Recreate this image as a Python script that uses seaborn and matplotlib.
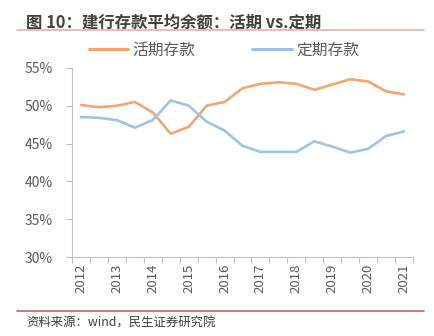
import matplotlib
matplotlib.use("Agg")
import matplotlib.pyplot as plt
import matplotlib.lines as mlines
import seaborn as sns
import pandas as pd
import numpy as np

periods = ["2012", "2012H2", "2013", "2013H2", "2014", "2014H2", "2015", "2015H2",
           "2016", "2016H2", "2017", "2017H2", "2018", "2018H2", "2019", "2019H2",
           "2020", "2020H2", "2021"]
tick_labels = ["2012", "2013", "2014", "2015", "2016", "2017", "2018", "2019", "2020", "2021"]
demand = [50.1, 49.8, 50.0, 50.5, 49.1, 46.3, 47.2, 50.0, 50.5, 52.3, 52.9, 53.1,
          52.9, 52.1, 52.8, 53.5, 53.2, 51.9, 51.5]
time_dep = [48.5, 48.4, 48.1, 47.1, 48.1, 50.7, 50.0, 47.9, 46.7, 44.7, 43.9, 43.9,
            43.9, 45.3, 44.6, 43.8, 44.3, 46.0, 46.6]
series_names = ["活期存款", "定期存款"]
colors = ["#F4A672", "#9DC3E6"]

sns.set_theme(style="white")
plt.rcParams['font.family'] = ['Noto Sans CJK SC', 'DejaVu Sans']

df = pd.DataFrame({
    "idx": list(range(len(periods))) * 2,
    "value": demand + time_dep,
    "series": [series_names[0]] * len(periods) + [series_names[1]] * len(periods),
})

fig = plt.figure(figsize=(4.35, 3.36), dpi=100)
ax = fig.add_axes([0.1655, 0.235, 0.784, 0.563])
sns.lineplot(data=df, x="idx", y="value", hue="series", palette=colors,
             linewidth=1.9, ax=ax, legend=False)

grey = "#595959"
ax.set_xlim(-0.5, len(periods) - 0.5)
ax.set_ylim(30, 55)
ax.set_yticks([30, 35, 40, 45, 50, 55])
ax.set_yticklabels([f"{v}%" for v in [30, 35, 40, 45, 50, 55]], color=grey, fontsize=10)
ax.set_xticks(list(range(0, len(periods), 2)))
ax.set_xticklabels(tick_labels, rotation=90, color=grey, fontsize=9.5)
ax.set_xticks(np.arange(-0.5, len(periods), 1), minor=True)
ax.tick_params(axis="x", which="major", length=0, pad=5)
ax.tick_params(axis="x", which="minor", length=4, color="#BFBFBF", width=0.8, direction="out", bottom=True)
ax.tick_params(axis="y", length=4, color="#BFBFBF", width=0.8, direction="out", left=True, pad=10)
ax.set_xlabel("")
ax.set_ylabel("")
for s in ["top", "right"]:
    ax.spines[s].set_visible(False)
for s in ["left", "bottom"]:
    ax.spines[s].set_color("#BFBFBF")
    ax.spines[s].set_linewidth(0.8)
ax.grid(False)

handles = [mlines.Line2D([], [], color=c, linewidth=2.2) for c in colors]
fig.legend(handles, series_names, loc="center", bbox_to_anchor=(0.515, 0.851),
           ncol=2, frameon=False, fontsize=11.3, labelcolor=grey,
           handlelength=2.5, handletextpad=0.3, columnspacing=3.6)

fig.text(0.06, 0.934, "图 10：建行存款平均余额：活期 vs.定期", fontsize=11.8,
         fontweight="bold", color="#404040", va="center", ha="left")
fig.add_artist(mlines.Line2D([0.039, 0.975], [0.911, 0.911], color="#E6AFAF", linewidth=1.2))
fig.add_artist(mlines.Line2D([0.039, 0.975], [0.074, 0.074], color="#D0605A", linewidth=1.2))
fig.text(0.06, 0.042, "资料来源：wind，民生证券研究院", fontsize=8.9,
         color="#404040", va="center", ha="left")

fig.savefig("out.png", dpi=100)
